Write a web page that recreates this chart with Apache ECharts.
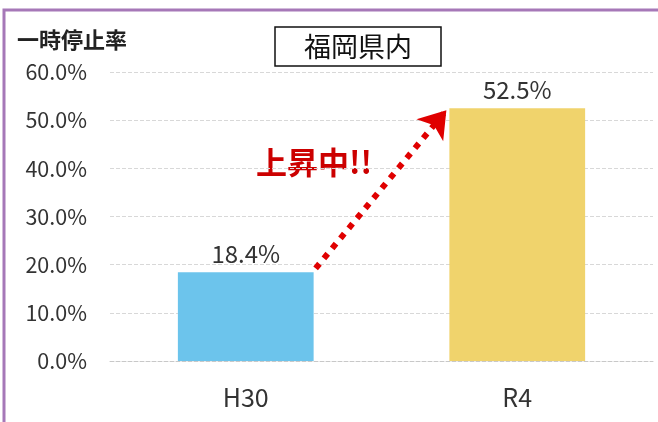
<!DOCTYPE html>
<html>
<head>
<meta charset="utf-8">
<script src="https://cdn.jsdelivr.net/npm/echarts@6/dist/echarts.min.js"></script>
<style>
html, body { margin: 0; padding: 0; background: #fff; }
#chart { width: 658px; height: 422px; }
</style>
</head>
<body>
<div id="chart"></div>
<script>
var categories = ['H30', 'R4'];
var rates = [18.4, 52.5];
var barColors = ['#6cc4ec', '#f0d36c'];
var yTicks = [0, 10, 20, 30, 40, 50, 60];

var font = '"Noto Sans CJK JP", "Noto Sans", sans-serif';
var chart = echarts.init(document.getElementById('chart'));

var option = {
	backgroundColor: '#fff',
	animation: false,
	title: {
		text: '福岡県内',
		left: 275,
		top: 27,
		padding: [6, 29, 6, 29],
		borderColor: '#111',
		borderWidth: 1.5,
		textStyle: { fontFamily: font, fontSize: 27, fontWeight: 'normal', color: '#111' }
	},
	grid: { left: 110, right: 5, top: 72, bottom: 61 },
	xAxis: {
		type: 'category',
		data: categories,
		axisTick: { show: false },
		axisLine: { lineStyle: { color: '#c8c8c8', type: 'dashed' } },
		axisLabel: { fontFamily: font, fontSize: 25, color: '#333', margin: 24 }
	},
	yAxis: {
		type: 'value',
		min: yTicks[0],
		max: yTicks[yTicks.length - 1],
		interval: 10,
		axisLine: { show: false },
		axisTick: { show: false },
		splitLine: { lineStyle: { color: '#d8d8d8', type: 'dashed' } },
		axisLabel: {
			fontFamily: font, fontSize: 21.5, color: '#333', margin: 23,
			formatter: function (v) { return v.toFixed(1) + '%'; }
		}
	},
	series: [{
		type: 'bar',
		barWidth: '50%',
		data: rates.map(function (v, i) {
			return { value: v, itemStyle: { color: barColors[i] } };
		}),
		label: {
			show: true,
			position: 'top',
			distance: 6,
			fontFamily: font,
			fontSize: 24,
			color: '#333',
			formatter: function (p) { return p.value.toFixed(1) + '%'; }
		}
	}],
	graphic: [
		{ type: 'rect', shape: { x: 4, y: 10, width: 660, height: 420 }, style: { fill: 'none', stroke: '#a678b8', lineWidth: 3 } },
		{ type: 'text', left: 17, top: 29, style: { text: '一時停止率', fontFamily: font, fontSize: 22, fontWeight: 'bold', fill: '#222' } },
		{ type: 'text', left: 256, top: 147, style: { text: '上昇中!!', fontFamily: font, fontSize: 31, fontWeight: 'bold', fill: '#cc0000' } }
	]
};
chart.setOption(option);

// dotted arrow from the top-right corner of the first bar to the top-left of the second
var p0 = chart.convertToPixel({ seriesIndex: 0 }, [0, rates[0]]);
var p1 = chart.convertToPixel({ seriesIndex: 0 }, [1, rates[1]]);
var half = chart.convertToPixel({ xAxisIndex: 0 }, categories[1]) - chart.convertToPixel({ xAxisIndex: 0 }, categories[0]);
half = half * 0.25;
chart.setOption({
	series: [{
		markLine: {
			silent: true,
			symbol: ['none', 'arrow'],
			symbolSize: [26, 26],
			label: { show: false },
			lineStyle: { color: '#e00000', width: 6, type: [6, 7], cap: 'butt' },
			data: [[
				{ x: p0[0] + half + 2, y: p0[1] - 4 },
				{ x: p1[0] - half - 3, y: p1[1] + 2 }
			]]
		}
	}]
});
</script>
</body>
</html>
